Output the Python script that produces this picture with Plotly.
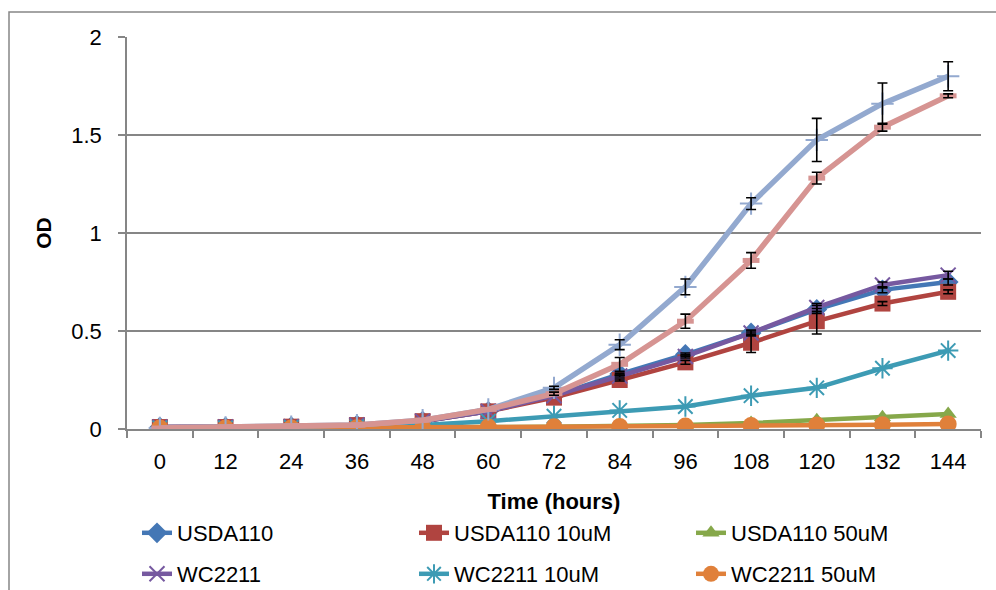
import plotly.graph_objects as go

# ---- data ----
hours = ["0", "12", "24", "36", "48", "60", "72", "84", "96", "108", "120", "132", "144"]

usda110 = [0.01, 0.01, 0.012, 0.02, 0.04, 0.09, 0.17, 0.28, 0.38, 0.49, 0.61, 0.71, 0.75]
usda110_10 = [0.01, 0.01, 0.012, 0.02, 0.04, 0.09, 0.16, 0.25, 0.34, 0.44, 0.55, 0.64, 0.70]
usda110_50 = [0.005, 0.005, 0.005, 0.005, 0.008, 0.01, 0.012, 0.015, 0.02, 0.03, 0.045, 0.06, 0.077]
wc2211 = [0.01, 0.01, 0.012, 0.02, 0.04, 0.09, 0.17, 0.27, 0.37, 0.49, 0.62, 0.735, 0.785]
wc2211_10 = [0.005, 0.005, 0.008, 0.012, 0.02, 0.04, 0.065, 0.095, 0.115, 0.17, 0.21, 0.31, 0.40]
wc2211_50 = [0.005, 0.005, 0.005, 0.006, 0.008, 0.01, 0.012, 0.013, 0.015, 0.018, 0.02, 0.022, 0.025]
series7 = [0.005, 0.008, 0.012, 0.02, 0.045, 0.10, 0.21, 0.43, 0.725, 1.15, 1.475, 1.66, 1.80]
series8 = [0.005, 0.008, 0.012, 0.02, 0.045, 0.10, 0.18, 0.33, 0.55, 0.86, 1.28, 1.54, 1.70]

# standard errors (None = too small to see)
usda110_err = [None, None, None, None, None, None, None, 0.005, 0.008, 0.01, 0.02, 0.015, 0.015]
usda110_10_err = [None, None, None, None, None, None, None, 0.005, 0.01, 0.05, 0.065, 0.01, 0.01]
wc2211_err = [None, None, None, None, None, None, None, 0.005, 0.008, 0.015, 0.02, 0.015, 0.02]
series7_err = [None, None, None, None, None, None, 0.008, 0.025, 0.04, 0.03, 0.11, 0.105, 0.074]
series8_err = [None, None, None, None, None, None, 0.008, 0.035, 0.036, 0.04, 0.03, 0.02, 0.01]

FONT = "Liberation Sans, Arial, sans-serif"
GRAY = "#868686"

series = [
    dict(name="USDA110", y=usda110, err=usda110_err, color="#4477B5", symbol="diamond", size=16, lw=4.5, legend="legend", line_marker=False),
    dict(name="USDA110 10uM", y=usda110_10, err=usda110_10_err, color="#B04440", symbol="square", size=16, lw=4.5, legend="legend", line_marker=False),
    dict(name="USDA110 50uM", y=usda110_50, err=None, color="#86A84A", symbol="triangle-up", size=15, lw=4.5, legend="legend", line_marker=False),
    dict(name="WC2211", y=wc2211, err=wc2211_err, color="#7659A0", symbol="x-thin", size=15, lw=4.5, legend="legend2", line_marker=True),
    dict(name="WC2211 10uM", y=wc2211_10, err=None, color="#3D9BB4", symbol="asterisk", size=17, lw=4.5, legend="legend2", line_marker=True),
    dict(name="WC2211 50uM", y=wc2211_50, err=None, color="#E0803A", symbol="circle", size=17, lw=4.5, legend="legend2", line_marker=False),
    dict(name="Series7", y=series7, err=series7_err, color="#93A9CF", symbol="cross-thin", size=16, lw=5.5, legend=None, line_marker=True),
    dict(name="Series8", y=series8, err=series8_err, color="#D69492", symbol="line-ew", size=12, lw=5.5, legend=None, line_marker=True),
]

fig = go.Figure()
for s in series:
    if s["line_marker"]:
        marker = dict(symbol=s["symbol"], size=s["size"], color=s["color"],
                      line=dict(color=s["color"], width=5 if s["symbol"] == "line-ew" else 2))
    else:
        marker = dict(symbol=s["symbol"], size=s["size"], color=s["color"], line=dict(width=0))
    kw = dict(x=hours, y=s["y"], name=s["name"], mode="lines+markers",
              line=dict(color=s["color"], width=s["lw"]), marker=marker)
    if s["legend"] is None:
        kw["showlegend"] = False
    else:
        kw["legend"] = s["legend"]
    fig.add_trace(go.Scatter(**kw))

# error bars drawn on top (as in the original), only where they are visible
for s in series:
    if s["err"] is None:
        continue
    idx = [i for i, e in enumerate(s["err"]) if e is not None]
    fig.add_trace(go.Scatter(
        x=[hours[i] for i in idx], y=[s["y"][i] for i in idx],
        mode="markers", showlegend=False, hoverinfo="skip",
        marker=dict(size=1, color="rgba(0,0,0,0)"),
        error_y=dict(type="data", array=[s["err"][i] for i in idx], visible=True,
                     color="black", thickness=1.6, width=5),
    ))

W, H = 996, 590
ML, MR, MT, MB = 127, 15, 37, 161
PW, PH = W - ML - MR, H - MT - MB


def px_x(px):
    return (px - ML) / PW


def px_y(py):
    return (H - MB - py) / PH


fig.update_layout(
    width=W, height=H,
    margin=dict(l=ML, r=MR, t=MT, b=MB, autoexpand=False),
    paper_bgcolor="white", plot_bgcolor="white",
    font=dict(family=FONT, size=22, color="black"),
    xaxis=dict(
        type="category", categoryorder="array", categoryarray=hours,
        range=[-0.5, len(hours) - 0.5],
        showline=True, linecolor=GRAY, linewidth=1.5,
        ticks="outside", tickson="boundaries", ticklen=7, tickcolor=GRAY, tickwidth=1.5,
        showgrid=False, tickfont=dict(size=22), ticklabelstandoff=12,
        title=dict(text="<b>Time (hours)</b>", font=dict(size=22), standoff=20),
    ),
    yaxis=dict(
        range=[0, 2], tick0=0, dtick=0.5,
        showline=True, linecolor=GRAY, linewidth=1.5,
        ticks="outside", ticklen=7, tickcolor=GRAY, tickwidth=1.5,
        showgrid=True, gridcolor=GRAY, gridwidth=1.5, zeroline=False,
        tickfont=dict(size=22), ticklabelstandoff=12,
        title=dict(text="<b>OD</b>", font=dict(size=21), standoff=14),
    ),
    legend=dict(orientation="h", x=px_x(137), y=px_y(533), xanchor="left", yanchor="middle",
                entrywidth=232, entrywidthmode="pixels", font=dict(size=22),
                bgcolor="rgba(0,0,0,0)", tracegroupgap=0),
    legend2=dict(orientation="h", x=px_x(137), y=px_y(574), xanchor="left", yanchor="middle",
                 entrywidth=232, entrywidthmode="pixels", font=dict(size=22),
                 bgcolor="rgba(0,0,0,0)", tracegroupgap=0),
    shapes=[dict(type="path", xref="paper", yref="paper",
                 path=f"M {px_x(9)} {px_y(600)} L {px_x(9)} {px_y(12)} L {px_x(1000)} {px_y(12)}",
                 line=dict(color=GRAY, width=1.5))],
    showlegend=True,
)

fig.write_html("out.html", config={"displayModeBar": False},
               post_script="document.body.style.margin='0';")
